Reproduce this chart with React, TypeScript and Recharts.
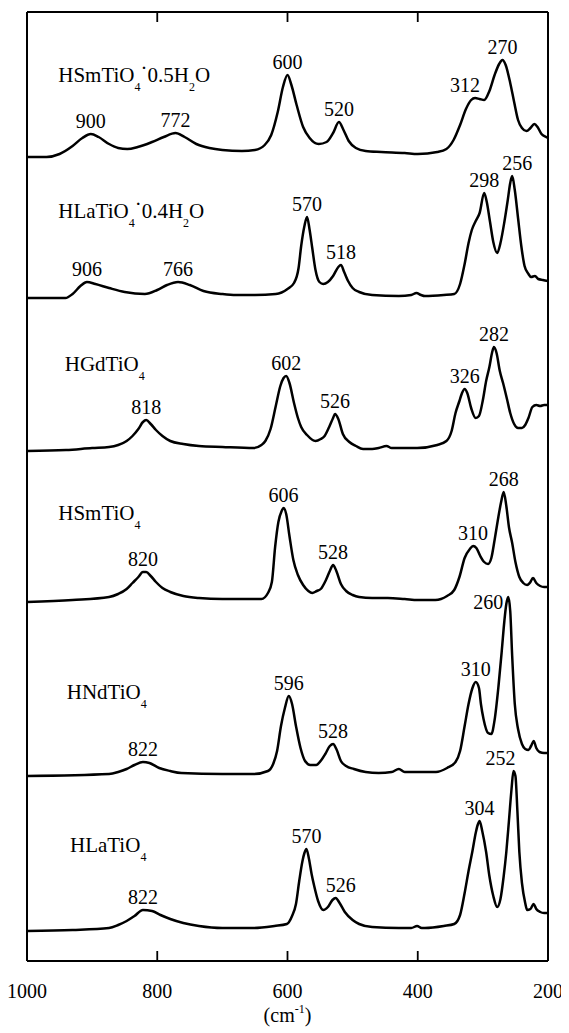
import React from "react";
import { LineChart, Line, XAxis, YAxis, ReferenceDot, ReferenceLine } from "recharts";

const FONT = "'Liberation Serif', 'Times New Roman', Times, serif";

type Pt = [number, number];
type Seg = { t: string; k?: "sub" | "dot" };
type PeakLabel = { text: string; dx?: number; dy?: number };

// Wavenumber axis
const wavenumberTicks = [1000, 800, 600, 400, 200];
const topTicks = [800, 600, 400];
const wnMin = 200;
const wnMax = 1000;
const intensityMax = 949;

// Raman spectra: [wavenumber (cm-1), intensity above own baseline (a.u.)]
const hSmTiO4Hydrate: Pt[] = [
  [1000, 0], [970, 0], [950, 3], [930, 11], [915, 19], [902, 23], [890, 20], [874, 13], [860, 9], [846, 8],
  [830, 10], [808, 15], [790, 20], [772, 24], [758, 20], [740, 13], [720, 9], [700, 7], [670, 6], [650, 7],
  [635, 12], [625, 22], [615, 45], [607, 70], [600, 82], [594, 72], [586, 52], [576, 30], [566, 19], [552, 13],
  [540, 15], [530, 24], [521, 35], [514, 27], [506, 16], [495, 9], [480, 6], [456, 5], [420, 4], [400, 3],
  [370, 5], [356, 8], [345, 17], [335, 32], [326, 48], [318, 57], [312, 59], [305, 58], [298, 57], [290, 66],
  [282, 82], [275, 93], [270, 97], [265, 92], [258, 74], [252, 55], [246, 37], [240, 29], [233, 26], [227, 29],
  [221, 33], [216, 30], [210, 23], [203, 20], [200, 19],
];

const hLaTiO4Hydrate: Pt[] = [
  [1000, 0], [941, 0], [930, 4], [918, 12], [908, 16], [895, 14], [874, 10], [850, 6], [819, 4], [800, 8],
  [785, 13], [768, 16], [750, 13], [729, 7], [700, 4], [679, 3], [650, 3], [618, 4], [600, 9], [590, 15],
  [583, 30], [579, 52], [574, 72], [570, 81], [566, 68], [562, 50], [557, 28], [551, 16], [545, 14], [538, 16],
  [530, 22], [522, 31], [518, 33], [513, 26], [507, 17], [500, 10], [490, 6], [470, 3], [429, 2], [410, 3],
  [402, 5], [395, 3], [389, 2], [360, 3], [344, 4], [335, 14], [328, 34], [322, 55], [317, 68], [311, 77],
  [305, 85], [298, 105], [294, 96], [289, 76], [284, 56], [278, 45], [273, 55], [267, 76], [262, 97], [258, 115],
  [255, 122], [251, 108], [246, 80], [241, 52], [236, 32], [230, 24], [226, 21], [220, 22], [215, 19], [208, 18],
  [200, 17],
];

const hGdTiO4: Pt[] = [
  [1000, 0], [940, 1], [900, 3], [874, 4], [860, 6], [847, 10], [838, 15], [829, 22], [822, 29], [817, 31],
  [810, 27], [802, 21], [792, 15], [780, 10], [760, 7], [736, 5], [700, 4], [652, 3], [640, 6], [634, 10],
  [626, 22], [618, 45], [611, 65], [606, 73], [602, 75], [597, 68], [590, 48], [584, 33], [579, 24], [570, 16],
  [557, 10], [549, 12], [543, 15], [536, 24], [530, 33], [527, 37], [522, 32], [515, 17], [505, 9], [495, 5],
  [484, 2], [470, 2], [460, 3], [448, 5], [440, 3], [420, 3], [401, 3], [370, 6], [356, 10], [348, 20],
  [342, 38], [336, 50], [332, 58], [328, 62], [324, 58], [318, 43], [311, 33], [306, 35], [300, 51], [295, 70],
  [290, 84], [286, 98], [283, 104], [279, 98], [274, 80], [269, 68], [263, 52], [258, 38], [252, 27], [246, 23],
  [240, 23], [235, 26], [230, 33], [224, 44], [218, 46], [212, 45], [206, 46], [200, 46],
];

const hSmTiO4: Pt[] = [
  [1000, 0], [930, 2], [874, 5], [860, 8], [847, 13], [838, 19], [829, 25], [822, 30], [817, 30], [810, 26],
  [802, 20], [792, 14], [780, 10], [760, 6], [736, 4], [700, 3], [660, 3], [640, 3], [630, 9], [624, 20],
  [619, 55], [614, 80], [609, 91], [606, 94], [602, 88], [597, 66], [591, 42], [584, 27], [576, 17], [568, 11],
  [562, 9], [555, 11], [549, 13], [541, 22], [535, 31], [530, 37], [525, 31], [518, 18], [510, 11], [500, 7],
  [490, 5], [470, 4], [446, 4], [420, 3], [400, 2], [373, 2], [355, 6], [344, 12], [336, 25], [328, 44],
  [320, 53], [315, 56], [310, 54], [304, 46], [298, 40], [292, 38], [287, 44], [282, 62], [277, 82], [272, 100],
  [268, 110], [264, 96], [260, 75], [255, 59], [250, 40], [244, 25], [238, 19], [232, 17], [228, 19], [223, 24],
  [218, 19], [212, 16], [206, 15], [200, 15],
];

const hNdTiO4: Pt[] = [
  [1000, 0], [874, 2], [860, 4], [847, 7], [835, 11], [822, 14], [812, 13], [797, 8], [780, 5], [763, 3],
  [700, 2], [652, 2], [630, 5], [622, 12], [616, 25], [610, 50], [604, 68], [598, 80], [593, 72], [587, 50],
  [580, 28], [573, 15], [565, 11], [556, 11], [548, 16], [542, 22], [535, 30], [530, 32], [525, 27], [518, 15],
  [510, 10], [498, 7], [480, 4], [460, 3], [440, 4], [429, 7], [420, 4], [400, 4], [372, 4], [355, 8],
  [342, 14], [335, 25], [328, 50], [322, 72], [316, 88], [311, 94], [306, 88], [303, 72], [299, 57], [292, 43],
  [287, 42], [282, 56], [276, 90], [271, 125], [267, 155], [264, 172], [261, 179], [258, 165], [255, 120], [251, 72],
  [246, 47], [240, 32], [235, 27], [230, 26], [226, 30], [222, 35], [218, 28], [213, 24], [206, 23], [200, 23],
];

const hLaTiO4: Pt[] = [
  [1000, 0], [930, 1], [874, 3], [860, 6], [847, 10], [835, 15], [822, 21], [808, 20], [795, 16], [780, 12],
  [760, 8], [736, 5], [700, 3], [652, 3], [620, 5], [601, 7], [593, 15], [587, 27], [582, 50], [577, 70],
  [574, 78], [571, 82], [567, 72], [563, 57], [559, 45], [553, 30], [545, 21], [538, 24], [531, 31], [526, 33],
  [520, 28], [512, 19], [500, 11], [490, 7], [470, 4], [429, 3], [410, 3], [401, 5], [394, 3], [389, 3],
  [360, 5], [344, 7], [335, 16], [328, 38], [322, 60], [316, 80], [311, 98], [308, 106], [305, 110], [301, 100],
  [295, 79], [290, 55], [284, 35], [278, 24], [273, 32], [268, 55], [264, 79], [260, 110], [256, 142], [253, 160],
  [250, 155], [247, 120], [244, 79], [240, 48], [235, 28], [232, 21], [227, 22], [222, 27], [218, 22], [212, 19],
  [206, 18], [200, 18],
];

// vertical offsets of the stacked spectra (a.u.)
const traceOffsets = [804, 663, 510, 359, 185, 30];

const nameHSmTiO4Hydrate: Seg[] = [{ t: "HSmTiO" }, { t: "4", k: "sub" }, { t: "·", k: "dot" }, { t: "0.5H" }, { t: "2", k: "sub" }, { t: "O" }];
const nameHLaTiO4Hydrate: Seg[] = [{ t: "HLaTiO" }, { t: "4", k: "sub" }, { t: "·", k: "dot" }, { t: "0.4H" }, { t: "2", k: "sub" }, { t: "O" }];
const nameHGdTiO4: Seg[] = [{ t: "HGdTiO" }, { t: "4", k: "sub" }];
const nameHSmTiO4: Seg[] = [{ t: "HSmTiO" }, { t: "4", k: "sub" }];
const nameHNdTiO4: Seg[] = [{ t: "HNdTiO" }, { t: "4", k: "sub" }];
const nameHLaTiO4: Seg[] = [{ t: "HLaTiO" }, { t: "4", k: "sub" }];

const labelsT1: PeakLabel[] = [{ text: "900" }, { text: "772" }, { text: "600" }, { text: "520" }, { text: "312", dx: -10 }, { text: "270" }];
const labelsT2: PeakLabel[] = [{ text: "906" }, { text: "766" }, { text: "570" }, { text: "518" }, { text: "298" }, { text: "256", dx: 5 }];
const labelsT3: PeakLabel[] = [{ text: "818" }, { text: "602" }, { text: "526" }, { text: "326" }, { text: "282" }];
const labelsT4: PeakLabel[] = [{ text: "820" }, { text: "606" }, { text: "528" }, { text: "310" }, { text: "268" }];
const labelsT5: PeakLabel[] = [{ text: "822" }, { text: "596" }, { text: "528" }, { text: "310" }, { text: "260", dx: -20, dy: 12 }];
const labelsT6: PeakLabel[] = [{ text: "822" }, { text: "570" }, { text: "526", dx: 5 }, { text: "304" }, { text: "252", dx: -13 }];

const traces = [
  { id: "t1", name: nameHSmTiO4Hydrate, data: hSmTiO4Hydrate, offset: traceOffsets[0], labels: labelsT1, nameAt: 952, nameHeight: 75 },
  { id: "t2", name: nameHLaTiO4Hydrate, data: hLaTiO4Hydrate, offset: traceOffsets[1], labels: labelsT2, nameAt: 952, nameHeight: 80 },
  { id: "t3", name: nameHGdTiO4, data: hGdTiO4, offset: traceOffsets[2], labels: labelsT3, nameAt: 942, nameHeight: 80 },
  { id: "t4", name: nameHSmTiO4, data: hSmTiO4, offset: traceOffsets[3], labels: labelsT4, nameAt: 952, nameHeight: 82 },
  { id: "t5", name: nameHNdTiO4, data: hNdTiO4, offset: traceOffsets[4], labels: labelsT5, nameAt: 939, nameHeight: 77 },
  { id: "t6", name: nameHLaTiO4, data: hLaTiO4, offset: traceOffsets[5], labels: labelsT6, nameAt: 934, nameHeight: 79 },
];

const peakOf = (data: Pt[], wn: number) => {
  let best: Pt = data[0];
  let bestV = -Infinity;
  for (const p of data) {
    if (Math.abs(p[0] - wn) <= 10 && p[1] > bestV) {
      bestV = p[1];
      best = p;
    }
  }
  return best;
};

const BottomTick = (props: any) => {
  const { x, y, payload } = props;
  return (
    <g>
      <line x1={x} y1={y} x2={x} y2={y - 10} stroke="#000" strokeWidth={1.8} />
      <text x={x} y={y + 37} textAnchor="middle" fontFamily={FONT} fontSize={20} fill="#000">
        {payload.value}
      </text>
    </g>
  );
};

const AxisTitle = (props: any) => {
  const vb = props.viewBox || {};
  const cx = vb.x + vb.width / 2;
  const by = vb.y + 61;
  return (
    <text x={cx} y={by} textAnchor="middle" fontFamily={FONT} fontSize={20} fill="#000">
      (cm
      <tspan fontSize={12} dy={-9}>-1</tspan>
      <tspan dy={9}>)</tspan>
    </text>
  );
};

const renderName = (segs: Seg[]) => (p: any) => {
  let cur = 0;
  return (
    <text x={p.cx} y={p.cy} textAnchor="start" fontFamily={FONT} fontSize={21} fill="#000">
      {segs.map((s, i) => {
        const target = s.k === "sub" ? 9 : s.k === "dot" ? -7 : 0;
        const dy = target - cur;
        cur = target;
        return (
          <tspan key={i} dy={dy} fontSize={s.k === "sub" ? 12 : 21} fill="#000">
            {s.t}
          </tspan>
        );
      })}
    </text>
  );
};

const renderPeakLabel = (text: string, dx: number, dy: number) => (p: any) => (
  <text x={p.cx + dx} y={p.cy + dy} textAnchor="middle" fontFamily={FONT} fontSize={20} fill="#000">
    {text}
  </text>
);

export default function App() {
  return (
    <LineChart width={561} height={1025} margin={{ top: 4, right: 21, bottom: 0, left: 19 }}>
      <XAxis
        dataKey="x"
        type="number"
        domain={[wnMin, wnMax]}
        allowDataOverflow
        reversed
        ticks={wavenumberTicks}
        interval={0}
        tickLine={false}
        tickSize={0}
        tickMargin={0}
        tick={<BottomTick />}
        height={72}
        axisLine={{ stroke: "#000", strokeWidth: 2 }}
        label={{ content: <AxisTitle /> }}
      />
      <YAxis type="number" domain={[0, intensityMax]} allowDataOverflow hide />
      <ReferenceLine x={wnMax} stroke="#000" strokeWidth={2} ifOverflow="visible" />
      <ReferenceLine x={wnMin} stroke="#000" strokeWidth={2} ifOverflow="visible" />
      <ReferenceLine y={intensityMax} stroke="#000" strokeWidth={2} ifOverflow="visible" />
      {topTicks.map((t) => (
        <ReferenceLine
          key={"top-" + t}
          segment={[{ x: t, y: intensityMax }, { x: t, y: intensityMax - 10 }]}
          stroke="#000"
          strokeWidth={1.8}
          ifOverflow="visible"
        />
      ))}
      {traces.map((tr) => (
        <Line
          key={tr.id}
          data={tr.data.map(([x, v]) => ({ x, y: v + tr.offset }))}
          dataKey="y"
          type="monotone"
          stroke="#000"
          strokeWidth={2.5}
          dot={false}
          activeDot={false}
          isAnimationActive={false}
        />
      ))}
      {traces.map((tr) => (
        <ReferenceDot
          key={tr.id + "-name"}
          x={tr.nameAt}
          y={tr.nameHeight + tr.offset}
          r={0}
          ifOverflow="visible"
          shape={renderName(tr.name)}
        />
      ))}
      {traces.flatMap((tr) =>
        tr.labels.map((lb) => {
          const pk = peakOf(tr.data, Number(lb.text));
          return (
            <ReferenceDot
              key={tr.id + "-" + lb.text}
              x={pk[0]}
              y={pk[1] + tr.offset}
              r={0}
              ifOverflow="visible"
              shape={renderPeakLabel(lb.text, lb.dx ?? 0, lb.dy ?? -6)}
            />
          );
        })
      )}
    </LineChart>
  );
}
